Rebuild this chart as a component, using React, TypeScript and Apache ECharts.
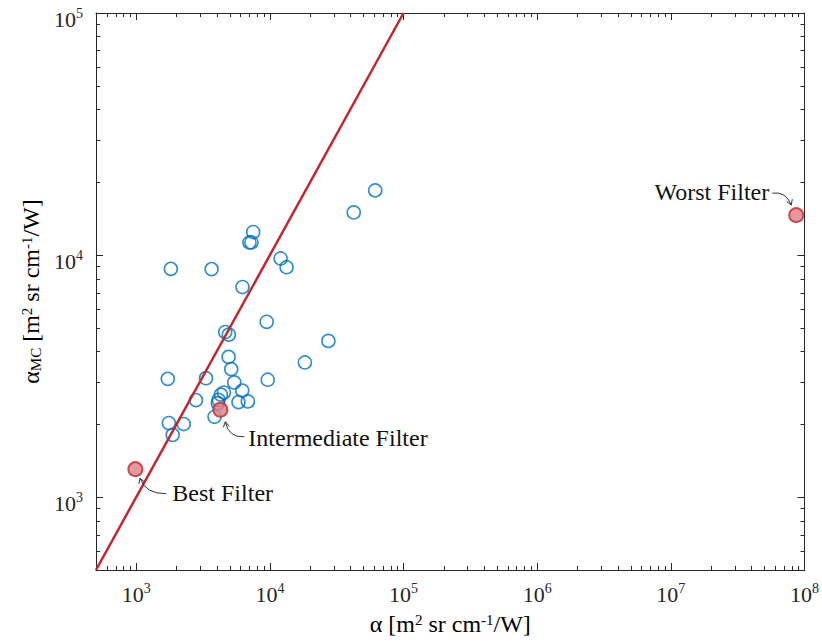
import React, { useEffect, useRef } from 'react';
import * as echarts from 'echarts';

const FONT = "'Liberation Serif', 'Times New Roman', Times, serif";
const AXIS_COLOR = '#262626';
const BLUE = '#0072BD';
const RED = '#C1272D';
const RED_FILL = '#E08083';

const xMin = 500;
const xMax = 1e8;
const yMin = 500;
const yMax = 1e5;

// measured filters (blue open circles)
const blueX = [61400, 42400, 7500, 7030, 7270, 12030, 13340, 1815, 3665, 6240, 9460, 27400, 4630, 4930, 4910, 5140, 18280, 1722, 3326, 9640, 5410, 6210, 4530, 4300, 4130, 4080, 2800, 5820, 6840, 3855, 1754, 2265, 1875];
const blueY = [18500, 15000, 12450, 11270, 11270, 9680, 8910, 8770, 8750, 7380, 5300, 4420, 4810, 4690, 3795, 3380, 3600, 3080, 3100, 3055, 2977, 2755, 2705, 2650, 2523, 2445, 2517, 2470, 2485, 2148, 2023, 2004, 1808];

// highlighted filters
const filterNames = ['Best Filter', 'Intermediate Filter', 'Worst Filter'];
const filterX = [985, 4260, 8.67e7];
const filterY = [1305, 2296, 14620];

// 1:1 reference line
const refLineX = [500, 1e5];
const refLineY = [500, 1e5];

function powLabel(v: number): string {
  const l = Math.log10(v);
  const e = Math.round(l);
  if (Math.abs(l - e) > 1e-6) return '';
  return `{b|10}{s|${e}}`;
}

const tickRich: any = {
  b: { fontFamily: FONT, fontSize: 22, color: AXIS_COLOR, padding: [12, 0, 0, 0] },
  s: { fontFamily: FONT, fontSize: 14, color: AXIS_COLOR, verticalAlign: 'top', padding: [10, 0, 0, 0] },
};

const nameRich: any = {
  a: { fontFamily: FONT, fontSize: 24, color: '#000' },
  s: { fontFamily: FONT, fontSize: 15, color: '#000', verticalAlign: 'top' },
  u: { fontFamily: FONT, fontSize: 15, color: '#000', verticalAlign: 'bottom' },
};

function minorValues(min: number, max: number): number[] {
  const out: number[] = [];
  for (let d = Math.floor(Math.log10(min)); d <= Math.ceil(Math.log10(max)); d++) {
    for (let k = 2; k <= 9; k++) {
      const v = k * Math.pow(10, d);
      if (v > min * 1.0001 && v < max * 0.9999) out.push(v);
    }
  }
  return out;
}

function baseAxis(extra: any) {
  return {
    type: 'log',
    logBase: 10,
    axisLine: { show: true, lineStyle: { color: AXIS_COLOR, width: 1 } },
    axisTick: { show: true, inside: true, length: 7, lineStyle: { color: AXIS_COLOR, width: 1 } },
    splitLine: { show: false },
    minorTick: { show: false },
    ...extra,
  };
}

function arrow(fromX: number, fromY: number, cX: number, cY: number, tipX: number, tipY: number): any[] {
  const dx = tipX - cX;
  const dy = tipY - cY;
  const len = Math.sqrt(dx * dx + dy * dy) || 1;
  const ux = dx / len;
  const uy = dy / len;
  const L = 6;
  const ang = Math.PI / 6;
  const w1x = tipX - L * (ux * Math.cos(ang) - uy * Math.sin(ang));
  const w1y = tipY - L * (uy * Math.cos(ang) + ux * Math.sin(ang));
  const w2x = tipX - L * (ux * Math.cos(-ang) - uy * Math.sin(-ang));
  const w2y = tipY - L * (uy * Math.cos(-ang) + ux * Math.sin(-ang));
  const style = { stroke: '#333', lineWidth: 1, fill: null };
  return [
    { type: 'bezierCurve', shape: { x1: fromX, y1: fromY, cpx1: cX, cpy1: cY, x2: tipX, y2: tipY }, style, z: 100 },
    { type: 'polyline', shape: { points: [[w1x, w1y], [tipX, tipY], [w2x, w2y]] }, style, z: 100 },
  ];
}

export default function App() {
  const ref = useRef<HTMLDivElement>(null);

  useEffect(() => {
    if (!ref.current) return;
    const chart = echarts.init(ref.current, null, { renderer: 'svg' });

    const blueData = blueX.map((x, i) => [x, blueY[i]]);
    const redData = filterX.map((x, i) => ({ name: filterNames[i], value: [x, filterY[i]] }));
    const lineData = refLineX.map((x, i) => [x, refLineY[i]]);

    chart.setOption({
      animation: false,
      backgroundColor: '#fff',
      grid: { left: 96, right: 14, top: 13, bottom: 72, containLabel: false },
      xAxis: [
        baseAxis({
          position: 'bottom',
          min: xMin,
          max: xMax,
          axisLabel: { show: true, margin: 1, formatter: powLabel, rich: tickRich, showMinLabel: false },
          name: '{a|α [m}{s|2}{a| sr cm}{s|-1}{a|/W]}',
          nameLocation: 'middle',
          nameGap: 42,
          nameTextStyle: { rich: nameRich },
        }),
        baseAxis({
          position: 'top',
          min: xMin,
          max: xMax,
          axisLabel: { show: false },
        }),
      ],
      yAxis: [
        baseAxis({
          position: 'left',
          min: yMin,
          max: yMax,
          axisLabel: { show: true, margin: 13, formatter: powLabel, rich: tickRich, showMinLabel: false },
          name: '{a|α}{u|MC}{a| [m}{s|2}{a| sr cm}{s|-1}{a|/W]}',
          nameLocation: 'middle',
          nameGap: 50,
          nameTextStyle: { rich: nameRich },
        }),
        baseAxis({
          position: 'right',
          min: yMin,
          max: yMax,
          axisLabel: { show: false },
        }),
      ],
      series: [
        {
          type: 'scatter',
          data: blueData,
          symbol: 'circle',
          symbolSize: 13,
          itemStyle: { color: 'rgba(255,255,255,0)', borderColor: BLUE, borderWidth: 1.6 },
          z: 2,
        },
        {
          type: 'line',
          data: lineData,
          symbol: 'none',
          lineStyle: { color: RED, width: 2.5 },
          clip: true,
          z: 3,
        },
        {
          type: 'scatter',
          data: redData,
          symbol: 'circle',
          symbolSize: 14,
          itemStyle: { color: RED_FILL, borderColor: RED, borderWidth: 2 },
          z: 4,
        },
      ],
    });

    // minor ticks and annotations placed through the axes' scales
    const px = (v: number) => chart.convertToPixel({ xAxisIndex: 0 }, v) as number;
    const py = (v: number) => chart.convertToPixel({ yAxisIndex: 0 }, v) as number;
    const left = px(xMin);
    const right = px(xMax);
    const bottom = py(yMin);
    const top = py(yMax);
    const M = 4;
    const tickStyle = { stroke: AXIS_COLOR, lineWidth: 1 };
    const g: any[] = [];
    minorValues(xMin, xMax).forEach((v) => {
      const x = Math.round(px(v)) + 0.5;
      g.push({ type: 'line', shape: { x1: x, y1: bottom, x2: x, y2: bottom - M }, style: tickStyle, silent: true });
      g.push({ type: 'line', shape: { x1: x, y1: top, x2: x, y2: top + M }, style: tickStyle, silent: true });
    });
    minorValues(yMin, yMax).forEach((v) => {
      const y = Math.round(py(v)) + 0.5;
      g.push({ type: 'line', shape: { x1: left, y1: y, x2: left + M, y2: y }, style: tickStyle, silent: true });
      g.push({ type: 'line', shape: { x1: right, y1: y, x2: right - M, y2: y }, style: tickStyle, silent: true });
    });

    const pts = filterX.map((x, i) => chart.convertToPixel({ gridIndex: 0 }, [x, filterY[i]]) as number[]);
    const textStyle = (text: string, align: string) => ({ text, fontFamily: FONT, fontSize: 24, fill: '#111', align, verticalAlign: 'middle' });

    // Best
    const [bx, by] = pts[0];
    g.push({ type: 'text', x: bx + 37, y: by + 24, style: textStyle(filterNames[0], 'left'), z: 100 });
    g.push(...arrow(bx + 31, by + 24.5, bx + 10, by + 25, bx + 4.7, by + 9));
    // Intermediate
    const [ix, iy] = pts[1];
    g.push({ type: 'text', x: ix + 28, y: iy + 28, style: textStyle(filterNames[1], 'left'), z: 100 });
    g.push(...arrow(ix + 24, iy + 27, ix + 8, iy + 28, ix + 5, iy + 12));
    // Worst
    const [wx, wy] = pts[2];
    g.push({ type: 'text', x: wx - 27, y: wy - 23, style: textStyle(filterNames[2], 'right'), z: 100 });
    g.push(...arrow(wx - 24, wy - 22, wx - 10, wy - 24, wx - 5, wy - 10));

    chart.setOption({ graphic: g });

    return () => {
      chart.dispose();
    };
  }, []);

  return (
    <div
      ref={ref}
      style={{ position: 'absolute', left: 0, top: 0, width: 822, height: 642, background: '#fff' }}
    />
  );
}
